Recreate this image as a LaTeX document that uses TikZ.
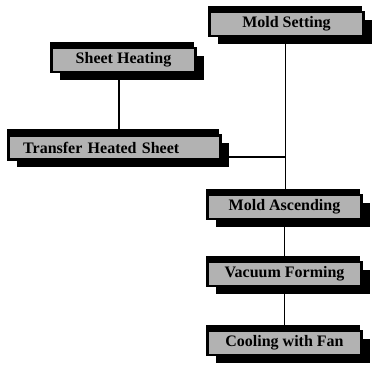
\documentclass[tikz,border=0pt]{standalone}
\usepackage{fontspec}
\setmainfont{Liberation Serif}
\usepackage{tikz}
\usetikzlibrary{shadows, calc}

\begin{document}
\begin{tikzpicture}[x=0.75pt, y=-0.75pt, thick,
        stage/.style={rectangle, draw=black, line width=2pt, fill=black!30,
            text centered, minimum height=18pt, minimum width=115.6pt, inner ysep=1pt,
            font=\fontsize{12}{14}\selectfont\bfseries,
            general shadow={fill=black, shadow yshift=4.5pt, shadow xshift=-1pt},
            drop shadow={fill=black, opacity=1, shadow xshift=6.3pt, shadow yshift=-5.7pt}},
        line/.style={draw, line width=1.3pt}]
        \useasboundingbox (0,0) rectangle (372,374);

        \node [stage] (setting) at (286.5,24) {Mold Setting};
        \node [stage, minimum width=108pt] (heating) at (123.5,60) {Sheet Heating};
        \node [stage, text width=137pt, align=left, inner xsep=11pt] (transfer) at (114.5,147.5) {Transfer Heated Sheet};
        \node [stage] (ascending) at (284.5,207) {Mold Ascending};
        \node [stage] (vacuum) at (284.5,274) {Vacuum Forming};
        \node [stage] (cooling) at (284.5,343) {Cooling with Fan};

        \path [line] ([xshift=-0.8pt]setting.south) -- ([xshift=-0.8pt]setting.south |- ascending.north);
        \path [line] ([xshift=-3.5pt]heating.south) -- ([xshift=-3.5pt]heating.south |- transfer.north);
        \path [line] ([yshift=-7.1pt]transfer.east) -- ([yshift=-7.1pt]transfer.east -| ascending.north);
        \path [line] (ascending) -- (vacuum);
        \path [line] (vacuum) -- (cooling);

    \end{tikzpicture}
\end{document}
